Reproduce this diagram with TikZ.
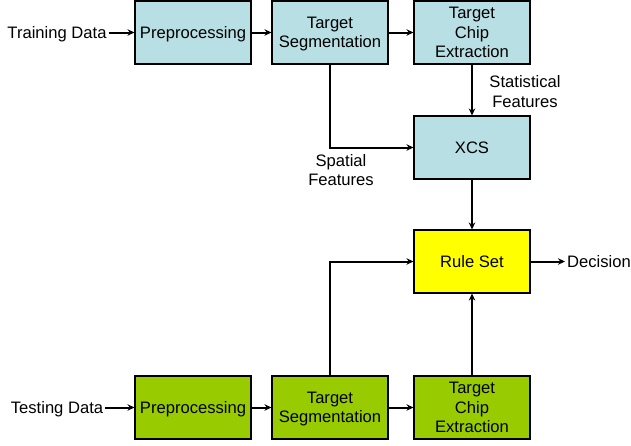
\documentclass[tikz,border=0pt]{standalone}
\usepackage{fontspec}
\setmainfont{Liberation Sans}
\usepackage{tikz}
\usetikzlibrary{shapes,arrows.meta}
\definecolor{trainblue}{HTML}{B8DFE3}
\definecolor{testgreen}{HTML}{99CC00}
\definecolor{ruleyellow}{HTML}{FFFF00}
\tikzstyle{train} = [rectangle, line width=1.1pt, minimum width=116pt, minimum height=63pt, inner sep=1pt, align=center, text depth=-1pt, draw=black, fill=trainblue]
\tikzstyle{test} = [rectangle, line width=1.1pt, minimum width=116pt, minimum height=63pt, inner sep=1pt, align=center, text depth=-1pt, draw=black, fill=testgreen]
\tikzstyle{rule} = [rectangle, line width=1.1pt, minimum width=116pt, minimum height=63pt, inner sep=1pt, align=center, text depth=-1pt, draw=black, fill=ruleyellow]
\tikzstyle{plain} = [inner sep=2pt, align=center, text depth=-1pt]
\tikzstyle{arrow} = [line width=2pt,-{Stealth[length=7pt,width=6.5pt]}]

\begin{document}
\begin{tikzpicture}[node distance=137pt, font=\fontsize{16.6}{19.5}\selectfont]
\useasboundingbox (0pt,0pt) rectangle (631pt,-445pt);
% nodes
\node (pre1) [train] at (193pt,-32.5pt) {Preprocessing};
\node (seg1) [train, right of=pre1] {Target\\Segmentation};
\node (chip1) [train, right of=seg1, xshift=5pt] {Target\\Chip\\Extraction};
\node (xcs) [train, below of=chip1, yshift=22pt] {XCS};
\node (rules) [rule, below of=xcs, yshift=23pt] {Rule Set};

\node (pre2) [test, below of=pre1, yshift=-238pt] {Preprocessing};
\node (seg2) [test, right of=pre2] {Target\\Segmentation};
\node (chip2) [test, right of=seg2, xshift=5pt] {Target\\Chip\\Extraction};

\node (trdata) [plain, left of=pre1, xshift=1pt] {Training Data};
\node (tedata) [plain, left of=pre2, xshift=1pt] {Testing Data};
\node (dec) [plain, right of=rules, xshift=-10pt] {Decision};
\node (stat) [plain, below of=chip1, xshift=53pt, yshift=78pt] {Statistical\\Features};
\node (spat) [plain, left of=xcs, xshift=6pt, yshift=-22.5pt] {Spatial\\Features};

%edges
\draw [arrow] (trdata) -- (pre1);
\draw [arrow] (pre1) -- (seg1);
\draw [arrow] (seg1) -- (chip1);
\draw [arrow] (chip1) -- (xcs);
\draw [arrow] (seg1) |- (xcs);
\draw [arrow] (xcs) -- (rules);
\draw [arrow] (rules) -- (dec);

\draw [arrow] (tedata) -- (pre2);
\draw [arrow] (pre2) -- (seg2);
\draw [arrow] (seg2) -- (chip2);
\draw [arrow] (seg2) |- (rules);
\draw [arrow] (chip2) -- (rules);

\end{tikzpicture}
\end{document}
